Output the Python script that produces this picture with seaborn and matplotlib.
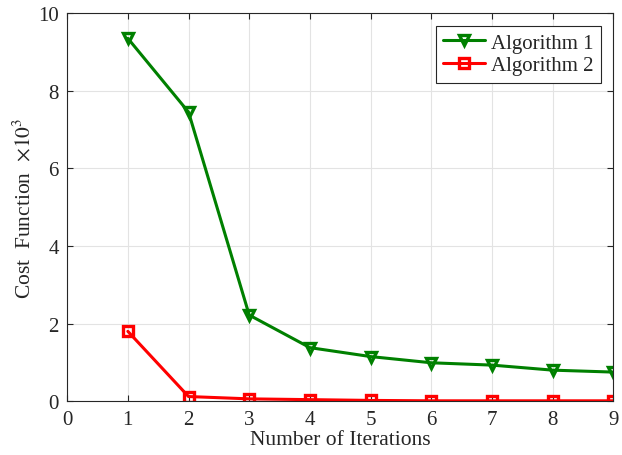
import matplotlib
matplotlib.use("Agg")
import matplotlib.pyplot as plt
import seaborn as sns
import pandas as pd

iterations = [1, 2, 3, 4, 5, 6, 7, 8, 9]
algo1 = [9.35, 7.45, 2.22, 1.38, 1.15, 0.99, 0.93, 0.80, 0.75]
algo2 = [1.80, 0.12, 0.06, 0.04, 0.02, 0.01, 0.01, 0.01, 0.01]
series_names = ["Algorithm 1", "Algorithm 2"]

sns.set_theme(style="whitegrid")
plt.rcParams['font.family'] = ['Liberation Serif', 'DejaVu Serif']
plt.rcParams['mathtext.fontset'] = 'stix'

df = pd.DataFrame({
    "it": iterations * 2,
    "val": algo1 + algo2,
    "alg": [series_names[0]] * len(iterations) + [series_names[1]] * len(iterations),
})

fig = plt.figure(figsize=(6.22, 4.56), dpi=100)
ax = fig.add_axes([0.108, 0.118, 0.878, 0.851])

palette = {"Algorithm 1": "#008000", "Algorithm 2": "#ff0000"}
markers = {"Algorithm 1": "v", "Algorithm 2": "s"}
sns.lineplot(data=df, x="it", y="val", hue="alg", style="alg", palette=palette,
             markers=markers, dashes=False, linewidth=2.2, markersize=6.5,
             ax=ax, legend=False)
for line in ax.lines:
    c = line.get_color()
    line.set_markerfacecolor("none")
    line.set_markeredgecolor(c)
    line.set_markeredgewidth(2.4)

ax.set_xlim(0, 9)
ax.set_ylim(0, 10)
ax.set_xticks(range(0, 10))
ax.set_yticks(range(0, 11, 2))
ax.set_xlabel("Number of Iterations", fontsize=15.5, labelpad=1)
ax.set_ylabel(r"Cost  Function  $\times10^3$", fontsize=15.5, labelpad=2)
ax.tick_params(axis="both", labelsize=15, direction="in", length=4, width=0.8,
               color="#262626", pad=6, bottom=True, left=True, top=True, right=True)
ax.grid(True, color="#e3e3e3", linewidth=0.8)
ax.set_facecolor("white")
for s in ax.spines.values():
    s.set_color("#262626")
    s.set_linewidth(0.8)

leg = ax.legend(ax.lines[:2], series_names, loc="upper right", fontsize=15,
                frameon=True, fancybox=False,
                edgecolor="#262626", framealpha=1, borderpad=0.35,
                handlelength=2.0, handletextpad=0.3, labelspacing=0.15,
                borderaxespad=0.6)
leg.get_frame().set_linewidth(0.8)

fig.savefig("out.png", dpi=100)
